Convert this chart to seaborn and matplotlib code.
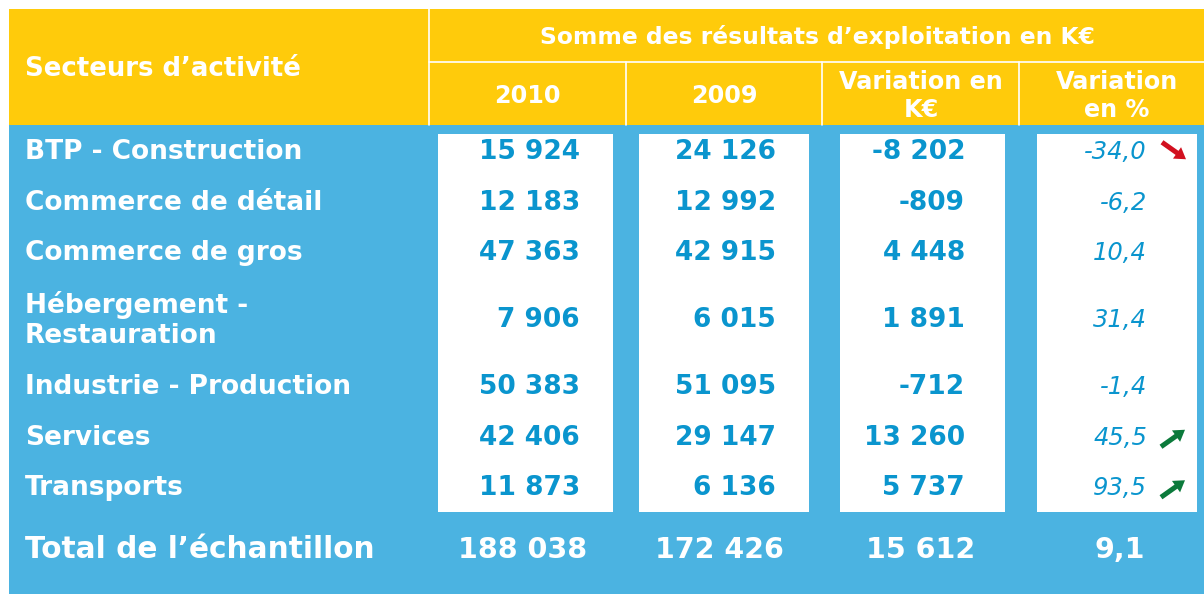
import matplotlib.pyplot as plt
from matplotlib.patches import Rectangle, FancyArrow
import seaborn as sns

sectors = ["BTP - Construction", "Commerce de détail", "Commerce de gros",
           "Hébergement -\nRestauration", "Industrie - Production",
           "Services", "Transports"]
res_2010 = [15924, 12183, 47363, 7906, 50383, 42406, 11873]
res_2009 = [24126, 12992, 42915, 6015, 51095, 29147, 6136]
var_keur = [-8202, -809, 4448, 1891, -712, 13260, 5737]
var_pct = [-34.0, -6.2, 10.4, 31.4, -1.4, 45.5, 93.5]
trend = [-1, 0, 0, 0, 0, 1, 1]   # arrow shown next to the % value
total_label = "Total de l\u2019échantillon"
total_vals = [188038, 172426, 15612]
total_pct = 9.1

header_left = "Secteurs d\u2019activité"
header_top = "Somme des résultats d\u2019exploitation en K€"
sub_headers = ["2010", "2009", "Variation en\nK€", "Variation\nen %"]

YELLOW = "#FFCB0B"
BLUE = "#4BB3E1"
NUM = "#0A95CE"
RED = "#D2101F"
GREEN = "#0B7A3B"

sns.set_theme(style="white")
plt.rcParams["font.family"] = ["DejaVu Sans"]


def fmt_int(v):
    return f"{v:,}".replace(",", " ")


def fmt_pct(v):
    return f"{v:.1f}".replace(".", ",")


fig = plt.figure(figsize=(12.04, 5.94), dpi=100)
ax = fig.add_axes([0, 0, 1, 1])
ax.set_xlim(0, 1204)
ax.set_ylim(594, 0)
ax.axis("off")

# backgrounds
ax.add_patch(Rectangle((9, 9), 1195, 116, color=YELLOW, lw=0))
ax.add_patch(Rectangle((9, 125), 1195, 469, color=BLUE, lw=0))

# header grid lines
ax.plot([429, 429], [9, 125], color="white", lw=1.2)
ax.plot([429, 1204], [62, 62], color="white", lw=1.2)
for x in [626, 822, 1019]:
    ax.plot([x, x], [62, 125], color="white", lw=1.2)

# header texts
ax.text(25, 69, header_left, color="white", fontsize=18.7, fontweight="bold",
        va="center", ha="left")
ax.text(817, 37, header_top, color="white", fontsize=16.8, fontweight="bold",
        va="center", ha="center")
sub_centers = [527, 724, 921, 1117]
for xc, lab in zip(sub_centers, sub_headers):
    ax.text(xc, 96, lab, color="white", fontsize=17.2, fontweight="bold",
            va="center", ha="center", linespacing=1.25)

# white columns
col_boxes = [(438, 613), (639, 809), (840, 1005), (1037, 1197)]
for x0, x1 in col_boxes:
    ax.add_patch(Rectangle((x0, 134), x1 - x0, 378, color="white", lw=0))

# row positions
centers = []
y = 127
for lab in sectors:
    h = 50.5 + 33 * lab.count("\n")
    centers.append(y + h / 2)
    y += h

num_right = [580, 776, 965]
pct_right = 1147
for i, yc in enumerate(centers):
    ax.text(25, yc, sectors[i], color="white", fontsize=19, fontweight="bold",
            va="center", ha="left", linespacing=1.2)
    for xr, vals in zip(num_right, [res_2010, res_2009, var_keur]):
        ax.text(xr, yc, fmt_int(vals[i]), color=NUM, fontsize=19,
                fontweight="bold", va="center", ha="right")
    ax.text(pct_right, yc, fmt_pct(var_pct[i]), color=NUM, fontsize=17.5,
            style="italic", va="center", ha="right")
    if trend[i] != 0:
        col = GREEN if trend[i] > 0 else RED
        if trend[i] > 0:
            x0, y0, dx, dy = 1161, yc + 9, 24, -17
        else:
            x0, y0, dx, dy = 1162, yc - 10, 24, 17
        ax.add_patch(FancyArrow(x0, y0, dx, dy, width=5, head_width=14,
                                head_length=11, length_includes_head=True,
                                color=col, lw=0))

# total row
ty = 550
ax.text(25, ty, total_label, color="white", fontsize=21.3, fontweight="bold",
        va="center", ha="left")
for xr, v in zip([587, 784, 975], total_vals):
    ax.text(xr, ty, fmt_int(v), color="white", fontsize=20.5,
            fontweight="bold", va="center", ha="right")
ax.text(1145, ty, fmt_pct(total_pct), color="white", fontsize=20.5,
        fontweight="bold", va="center", ha="right")

fig.savefig("out.png", dpi=100)
